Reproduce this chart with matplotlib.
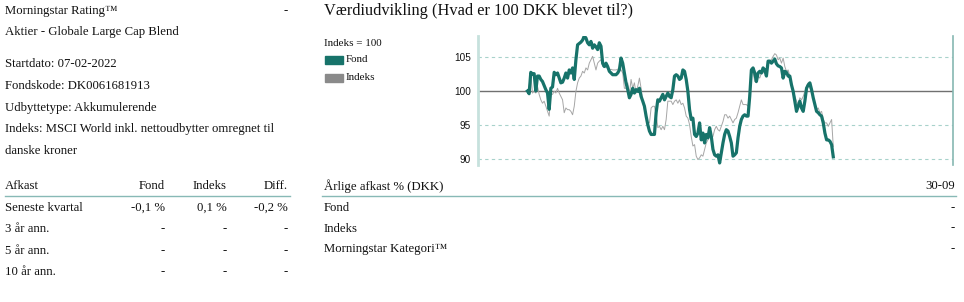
import matplotlib
matplotlib.use('Agg')
import matplotlib.pyplot as plt
import pandas as pd
from matplotlib.patches import Rectangle
from matplotlib.lines import Line2D

# ---------------- data ----------------
start_date = '2022-02-07'
end_date = '2022-09-30'
axis_start = '2021-12-31'
axis_end = '2022-12-31'

fond = [
    100.0, 99.6, 102.75, 102.5, 102.55, 100.0, 102.2, 102.2, 101.7, 101.4,
    100.8, 100.2, 99.7, 97.3, 100.4, 100.6, 102.75, 102.4, 102.65, 101.9,
    101.2, 101.3, 101.9, 102.65, 101.9, 103.1, 102.65, 103.4, 101.7, 104.6,
    106.8, 107.0, 107.2, 107.5, 108.1, 107.8, 107.1, 106.8, 107.3, 106.3,
    106.8, 106.5, 106.1, 107.1, 106.6, 104.1, 103.6, 104.1, 103.6, 102.9,
    102.65, 102.4, 102.4, 102.4, 102.65, 103.1, 104.85, 104.1, 102.65, 101.2,
    100.2, 99.0, 99.5, 100.4, 99.7, 100.2, 99.95, 100.4, 99.2, 98.5,
    97.75, 96.3, 95.05, 94.1, 93.6, 93.6, 93.6, 96.8, 98.7, 98.5,
    99.0, 99.5, 98.7, 99.2, 99.7,
    99.2, 99.0, 100.2, 102.2, 102.4, 102.2, 101.7, 101.9, 103.1, 102.9,
    101.7, 99.95, 97.25, 95.8, 96.0, 93.6, 93.3, 93.8, 95.3, 92.8,
    93.8, 92.35, 93.6, 93.1, 94.6, 93.3, 91.4, 90.6, 90.4, 90.6,
    89.4, 90.9, 92.35, 93.6, 94.3, 94.1, 93.3, 92.35, 90.4, 90.6,
    90.9, 93.1, 94.8, 95.8, 96.3,
    96.5, 96.3, 96.3, 99.2, 103.1, 103.4, 102.65, 101.4, 102.65, 102.9,
    102.65, 103.4, 103.1, 102.2, 104.4, 104.4, 104.1, 104.4, 104.7, 104.0,
    103.7, 103.6, 103.4, 101.9, 102.9, 102.75, 102.2, 102.2, 100.9, 99.95,
    98.5, 97.0, 97.75, 98.5, 97.5, 97.0, 98.5, 100.4, 100.9, 101.2,
    100.2, 99.0, 98.0, 97.0, 96.8, 96.5, 96.3, 95.3, 93.8, 92.8,
    92.8, 92.6, 92.1, 90.3,
]

indeks = [
    99.95, 100.7, 102.4, 99.7, 99.95, 99.7, 100.7, 99.5, 98.7, 98.2,
    98.5, 97.75, 97.0, 96.3, 99.5, 99.5, 99.95, 99.7, 100.4, 99.7,
    99.2, 98.7, 96.8, 97.5, 97.25, 97.25, 97.0, 96.5, 97.75, 99.95,
    101.2, 101.9, 102.2, 102.9, 102.65, 103.4, 103.1, 104.1, 104.6, 105.1,
    104.1, 103.1, 104.1, 104.4, 104.6, 103.6, 103.9, 103.4, 103.6, 103.1,
    103.2, 103.1, 103.1, 103.1, 103.2, 103.4, 103.1, 102.65, 100.4, 100.4,
    101.2, 99.5, 101.7, 100.4, 101.2, 99.7, 100.7, 101.9, 100.4, 98.5,
    97.25, 96.5, 95.3, 95.3, 97.5, 97.75, 97.75, 96.5, 94.6, 94.8,
    94.3, 94.8, 94.3, 95.8, 98.5,
    98.5, 98.5, 98.0, 98.5, 98.7, 98.2, 98.7, 98.0, 98.2, 97.5,
    96.3, 96.0, 95.05, 93.3, 91.9, 92.1, 90.4, 89.9, 90.15, 90.6,
    90.4, 91.4, 92.35, 92.8, 93.3, 93.3, 93.3, 94.3, 94.8, 94.3,
    94.1, 94.8, 95.5, 96.5, 96.5, 96.0, 96.3, 95.8, 95.3, 95.8,
    96.0, 96.8, 97.75, 98.7, 98.0,
    98.0, 98.0, 97.75, 99.95, 102.4, 102.9, 101.4, 101.2, 102.2, 101.9,
    102.65, 102.65, 102.9, 102.65, 104.1, 104.4, 104.6, 105.1, 105.5, 105.3,
    104.6, 104.85, 104.1, 104.85, 103.6, 102.9, 103.1, 102.2, 101.2, 99.95,
    99.2, 98.5, 98.0, 99.0, 98.7, 99.2, 99.95, 100.7, 101.2, 100.4,
    99.95, 99.2, 98.2, 97.25, 97.5, 96.8, 97.0, 95.8, 95.3, 95.3,
    94.8, 95.3, 95.8, 91.8,
]

yticks = [90, 95, 100, 105]
gridlines = [90, 95, 105]
baseline = 100

info_lines = [
    'Startdato: 07-02-2022',
    'Fondskode: DK0061681913',
    'Udbyttetype: Akkumulerende',
    'Indeks: MSCI World inkl. nettoudbytter omregnet til',
    'danske kroner',
]
afkast_cols = ['Fond', 'Indeks', 'Diff.']
afkast_rows = ['Seneste kvartal', '3 år ann.', '5 år ann.', '10 år ann.']
afkast_vals = [['-0,1 %', '0,1 %', '-0,2 %'], ['-', '-', '-'], ['-', '-', '-'], ['-', '-', '-']]
aar_rows = ['Fond', 'Indeks', 'Morningstar Kategori™']
aar_col = '30-09'
aar_vals = ['-', '-', '-']

# ---------------- figure ----------------
W, H = 964, 302
fig = plt.figure(figsize=(W / 100, H / 100), dpi=100)
SERIF = 'Liberation Serif'
TXT = '#111111'
TEAL = '#17736a'
LINEC = '#88b9b6'


def txt(x, y, s, size=9.2, ha='left', **kw):
    fig.text(x / W, 1 - y / H, s, fontsize=size, ha=ha, va='center',
             family=SERIF, color=kw.pop('color', TXT), **kw)


def hline(x0, x1, y, color=LINEC, lw=1.0):
    fig.add_artist(Line2D([x0 / W, x1 / W], [1 - y / H, 1 - y / H],
                          transform=fig.transFigure, color=color, lw=lw))


# left column
txt(5, 11, 'Morningstar Rating™')
txt(288, 11, '-', ha='right')
txt(5, 32, 'Aktier - Globale Large Cap Blend')
for i, s in enumerate(info_lines):
    txt(5, 64 + i * 21.8, s)

col_x = [165, 227, 288]
txt(5, 186, 'Afkast')
for cx, c in zip(col_x, afkast_cols):
    txt(cx, 186, c, ha='right')
hline(5, 290, 196)
for r, (name, vals) in enumerate(zip(afkast_rows, afkast_vals)):
    y = 208 + r * 21.3
    txt(5, y, name)
    for cx, v in zip(col_x, vals):
        txt(cx, y, v, ha='right')

# right column
txt(324, 11, 'Værdiudvikling (Hvad er 100 DKK blevet til?)', size=11.8)
txt(324, 44, 'Indeks = 100', size=7.9)
fig.add_artist(Rectangle((325 / W, 1 - 64 / H), 18 / W, 8 / H,
                         transform=fig.transFigure, color=TEAL))
txt(346, 60, 'Fond', size=7.9)
fig.add_artist(Rectangle((325 / W, 1 - 82 / H), 18 / W, 8 / H,
                         transform=fig.transFigure, color='#8a8a8a'))
txt(346, 78, 'Indeks', size=7.9)

txt(324, 186, 'Årlige afkast % (DKK)')
txt(955, 186, aar_col, ha='right')
hline(322, 956, 196)
for r, (name, v) in enumerate(zip(aar_rows, aar_vals)):
    y = 208 + r * 20.5
    txt(324, y, name)
    txt(955, y, v, ha='right')

# chart
ax = fig.add_axes([478 / W, 1 - 165 / H, (953 - 478) / W, (165 - 36) / H])
dates = pd.date_range(start_date, end_date, periods=len(fond))
ax.plot(dates, indeks, color='#a6a6a6', lw=0.7, zorder=3)
ax.plot(dates, fond, color=TEAL, lw=2.3, zorder=4, solid_joinstyle='round')
for g in gridlines:
    ax.axhline(g, color='#a8d2cb', lw=0.8, dashes=(3, 3), zorder=1)
ax.axhline(baseline, color='#707070', lw=1.0, zorder=2)
ax.set_xlim(pd.Timestamp(axis_start), pd.Timestamp(axis_end))
ax.set_ylim(89.1, 108.1)
ax.set_yticks(yticks)
ax.set_yticklabels([str(t) for t in yticks], family='Liberation Sans', fontsize=7.2, color=TXT)
ax.tick_params(axis='y', length=0, pad=5)
ax.set_xticks([])
ax.spines['top'].set_visible(False)
ax.spines['bottom'].set_visible(False)
ax.spines['left'].set_color('#c6e1dd')
ax.spines['left'].set_linewidth(2)
ax.spines['right'].set_color('#86b8b2')
ax.spines['right'].set_linewidth(1.2)

fig.savefig('out.png', dpi=100)
